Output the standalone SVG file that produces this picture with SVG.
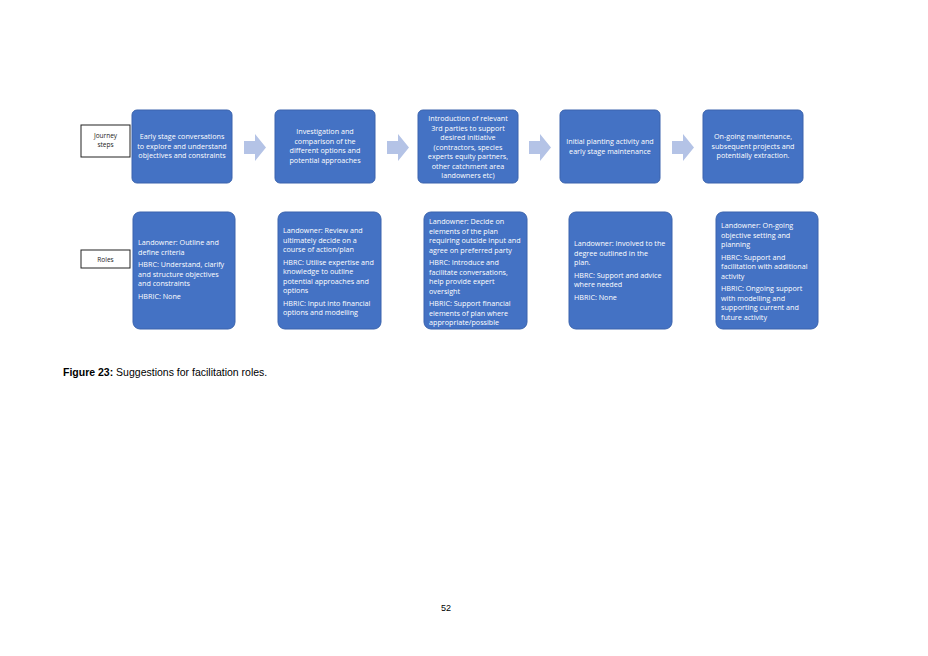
<svg xmlns="http://www.w3.org/2000/svg" width="928" height="656" viewBox="0 0 928 656">
<style>
.n{fill:#4472c4;stroke:#3a63ad;stroke-width:1}
.t{font-family:"Open Sans","Noto Sans",sans-serif;font-size:7.2px;fill:#fff}
.c{text-anchor:middle}
.lb{fill:#fff;stroke:#222;stroke-width:1}
.lt{font-family:"Open Sans","Noto Sans",sans-serif;font-size:6.5px;fill:#222;text-anchor:middle}
.ar{fill:#b4c3e6}
</style>
<rect width="928" height="656" fill="#fff"/>
<g id="lbl-journey"><rect class="lb" x="81" y="125" width="49" height="32"/><text class="lt" x="105.5" y="138">Journey</text><text class="lt" x="105.5" y="147">steps</text></g>
<g id="lbl-roles"><rect class="lb" x="81" y="250" width="49" height="18"/><text class="lt" x="105.5" y="261.5">Roles</text></g>
<g id="connectors">
<path class="ar" d="M244,141h11v-7l11,13.5l-11,13.5v-7h-11z"/>
<path class="ar" d="M387,141h11v-7l11,13.5l-11,13.5v-7h-11z"/>
<path class="ar" d="M529,141h11v-7l11,13.5l-11,13.5v-7h-11z"/>
<path class="ar" d="M672,141h11v-7l11,13.5l-11,13.5v-7h-11z"/>
</g>
<g id="j1"><rect class="n" x="132" y="110" width="100" height="73" rx="5"/><text class="t c" x="182"><tspan x="182" y="139">Early stage conversations</tspan><tspan x="182" y="148.5">to explore and understand</tspan><tspan x="182" y="158">objectives and constraints</tspan></text></g>
<g id="j2"><rect class="n" x="275" y="110" width="100" height="73" rx="5"/><text class="t c"><tspan x="325" y="134">Investigation and</tspan><tspan x="325" y="143.5">comparison of the</tspan><tspan x="325" y="153">different  options and</tspan><tspan x="325" y="162.5">potential approaches</tspan></text></g>
<g id="j3"><rect class="n" x="418" y="110" width="100" height="73" rx="5"/><text class="t c"><tspan x="468" y="121">Introduction of relevant</tspan><tspan x="468" y="130.5">3rd parties to support</tspan><tspan x="468" y="140">desired initiative</tspan><tspan x="468" y="149.5">(contractors, species</tspan><tspan x="468" y="159">experts equity partners,</tspan><tspan x="468" y="168.5">other catchment area</tspan><tspan x="468" y="178">landowners etc)</tspan></text></g>
<g id="j4"><rect class="n" x="560" y="110" width="100" height="73" rx="5"/><text class="t c"><tspan x="610" y="144">Initial planting activity and</tspan><tspan x="610" y="153.5">early stage maintenance</tspan></text></g>
<g id="j5"><rect class="n" x="703" y="110" width="100" height="73" rx="5"/><text class="t c"><tspan x="753" y="139">On-going maintenance,</tspan><tspan x="753" y="148.5">subsequent projects and</tspan><tspan x="753" y="158">potentially extraction.</tspan></text></g>
<g id="r1"><rect class="n" x="133" y="212" width="102" height="117" rx="7"/><text class="t"><tspan x="138" y="245">Landowner: Outline and</tspan><tspan x="138" y="254.5">define criteria</tspan><tspan x="138" y="267">HBRC: Understand, clarify</tspan><tspan x="138" y="276.5">and structure objectives</tspan><tspan x="138" y="286">and constraints</tspan><tspan x="138" y="298.5">HBRIC: None</tspan></text></g>
<g id="r2"><rect class="n" x="278" y="212" width="103" height="117" rx="7"/><text class="t"><tspan x="283" y="233">Landowner: Review and</tspan><tspan x="283" y="242.5">ultimately decide on a</tspan><tspan x="283" y="252">course of action/plan</tspan><tspan x="283" y="264.5">HBRC: Utilise expertise and</tspan><tspan x="283" y="274">knowledge to outline</tspan><tspan x="283" y="283.5">potential approaches and</tspan><tspan x="283" y="293">options</tspan><tspan x="283" y="305.5">HBRIC: Input into financial</tspan><tspan x="283" y="315">options and modelling</tspan></text></g>
<g id="r3"><rect class="n" x="424" y="212" width="103" height="117" rx="7"/><text class="t"><tspan x="429" y="224">Landowner: Decide on</tspan><tspan x="429" y="233.5">elements of the plan</tspan><tspan x="429" y="243">requiring outside input and</tspan><tspan x="429" y="252.5">agree on preferred party</tspan><tspan x="429" y="265">HBRC: Introduce and</tspan><tspan x="429" y="274.5">facilitate conversations,</tspan><tspan x="429" y="284">help provide expert</tspan><tspan x="429" y="293.5">oversight</tspan><tspan x="429" y="306">HBRIC: Support financial</tspan><tspan x="429" y="315.5">elements of plan where</tspan><tspan x="429" y="325">appropriate/possible</tspan></text></g>
<g id="r4"><rect class="n" x="569" y="212" width="103" height="117" rx="7"/><text class="t"><tspan x="574" y="246">Landowner: Involved to the</tspan><tspan x="574" y="255.5">degree outlined in the</tspan><tspan x="574" y="265">plan.</tspan><tspan x="574" y="277.5">HBRC: Support and advice</tspan><tspan x="574" y="287">where needed</tspan><tspan x="574" y="299.5">HBRIC: None</tspan></text></g>
<g id="r5"><rect class="n" x="716" y="212" width="102" height="117" rx="7"/><text class="t"><tspan x="721" y="228">Landowner: On-going</tspan><tspan x="721" y="237.5">objective setting and</tspan><tspan x="721" y="247">planning</tspan><tspan x="721" y="259.5">HBRC: Support and</tspan><tspan x="721" y="269">facilitation with additional</tspan><tspan x="721" y="278.5">activity</tspan><tspan x="721" y="291">HBRIC: Ongoing support</tspan><tspan x="721" y="300.5">with modelling and</tspan><tspan x="721" y="310">supporting current and</tspan><tspan x="721" y="319.5">future activity</tspan></text></g>
<text x="63" y="376" font-family="Liberation Sans,Arial,sans-serif" font-size="10.5" fill="#000"><tspan font-weight="bold">Figure 23:</tspan> Suggestions for facilitation roles.</text>
<text x="446" y="611" font-family="Liberation Sans,Arial,sans-serif" font-size="9" fill="#000" text-anchor="middle">52</text>
</svg>
